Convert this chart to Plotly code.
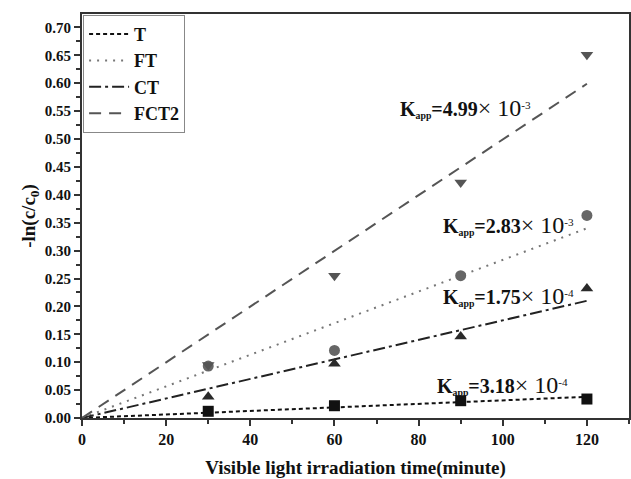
import plotly.graph_objects as go

# ---- data ----
times = [30, 60, 90, 120]
series_names = ["T", "FT", "CT", "FCT2"]
T_vals = [0.012, 0.022, 0.031, 0.034]
FT_vals = [0.093, 0.121, 0.255, 0.363]
CT_vals = [0.038, 0.097, 0.146, 0.232]
FCT2_vals = [0.095, 0.255, 0.422, 0.651]
fit_x = [0, 120]
T_fit = [0.0, 0.038]
FT_fit = [0.0, 0.340]
CT_fit = [0.0, 0.210]
FCT2_fit = [0.0, 0.599]
k_labels = ["3.18", "2.83", "1.75", "4.99"]
k_exps = ["-4", "-3", "-4", "-3"]
label_x = [83.8, 85.3, 85.3, 75.2]
label_y = [0.059, 0.345, 0.219, 0.555]

vals = [T_vals, FT_vals, CT_vals, FCT2_vals]
fits = [T_fit, FT_fit, CT_fit, FCT2_fit]
line_colors = ["#111111", "#777777", "#222222", "#555555"]
dashes = ["4px,3px", "2px,6px", "12px,4px,3px,4px", "12px,8px"]
marker_colors = ["#111111", "#666666", "#2a2a2a", "#555555"]
symbols = ["square", "circle", "triangle-up", "triangle-down"]

FONT = "Liberation Serif"
BOLD = dict(family=FONT, color="#111111", weight="bold")

fig = go.Figure()
for name, f, lc, d in zip(series_names, fits, line_colors, dashes):
    fig.add_trace(go.Scatter(x=fit_x, y=f, mode="lines", name=name,
                             line=dict(color=lc, width=2, dash=d)))
for name, v, mc, s in zip(series_names, vals, marker_colors, symbols):
    fig.add_trace(go.Scatter(x=times, y=v, mode="markers", showlegend=False,
                             cliponaxis=False,
                             marker=dict(symbol=s, size=11, color=mc)))

for kl, ke, lx, ly in zip(k_labels, k_exps, label_x, label_y):
    fig.add_annotation(
        x=lx, y=ly, xref="x", yref="y",
        xanchor="left", yanchor="middle", showarrow=False,
        text=(f"<b>K<span style='font-size:14px'><sub>app</sub></span>={kl}</b>"
              f"<span style='font-size:24px'>× 10</span>"
              f"<span style='font-size:16px'><sup>{ke}</sup></span>"),
        font=dict(family=FONT, size=20, color="#111111"),
    )

fig.update_layout(
    width=631, height=479,
    margin=dict(l=82, r=0, t=14, b=61),
    paper_bgcolor="white", plot_bgcolor="white",
    font=dict(family=FONT, color="#111111"),
    showlegend=True,
    legend=dict(x=0.002, y=0.998, xanchor="left", yanchor="top",
                bordercolor="#888888", borderwidth=1, bgcolor="white",
                font=dict(size=18, **BOLD), itemwidth=40),
    xaxis=dict(range=[0, 130], tickvals=[0, 20, 40, 60, 80, 100, 120],
               tickprefix="<b>", ticksuffix="</b>",
               ticks="outside", ticklen=6, tickwidth=2, tickcolor="#333333",
               minor=dict(ticks="outside", ticklen=4, tickwidth=1.5, dtick=10, tickcolor="#333333"),
               showline=True, linecolor="#333333", linewidth=2, mirror=True,
               showgrid=False, zeroline=False,
               tickfont=dict(size=16, **BOLD),
               title=dict(text="Visible light irradiation time(minute)",
                          font=dict(size=19, **BOLD), standoff=14)),
    yaxis=dict(range=[0, 0.724], dtick=0.05, tickformat=".2f",
               tickprefix="<b>", ticksuffix="</b>",
               ticks="outside", ticklen=6, tickwidth=2, tickcolor="#333333",
               minor=dict(ticks="outside", ticklen=4, tickwidth=1.5, dtick=0.025, tickcolor="#333333"),
               showline=True, linecolor="#333333", linewidth=2, mirror=True,
               showgrid=False, zeroline=False,
               tickfont=dict(size=15, **BOLD),
               title=dict(text="-ln(c/c<sub>0</sub>)",
                          font=dict(size=19, **BOLD), standoff=4)),
)
fig.write_html("out.html")
